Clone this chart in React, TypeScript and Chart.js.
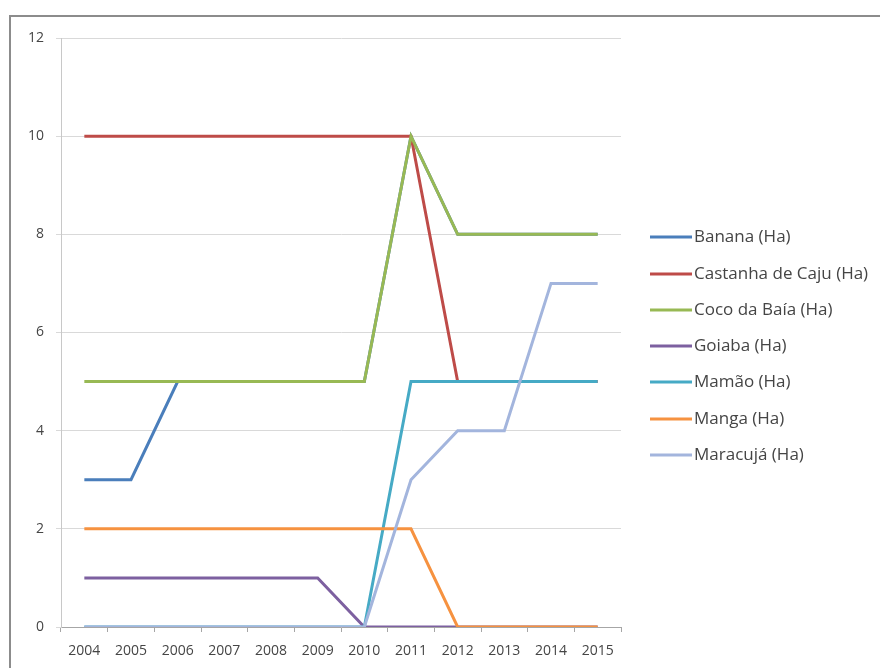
import React, { useEffect, useRef } from "react";
import { Chart, registerables } from "chart.js";

Chart.register(...registerables);

const years = ["2004", "2005", "2006", "2007", "2008", "2009", "2010", "2011", "2012", "2013", "2014", "2015"];
const banana = [3, 3, 5, 5, 5, 5, 5, 10, 8, 8, 8, 8];
const castanha = [10, 10, 10, 10, 10, 10, 10, 10, 5, 5, 5, 5];
const coco = [5, 5, 5, 5, 5, 5, 5, 10, 8, 8, 8, 8];
const goiaba = [1, 1, 1, 1, 1, 1, 0, 0, 0, 0, 0, 0];
const mamao = [0, 0, 0, 0, 0, 0, 0, 5, 5, 5, 5, 5];
const manga = [2, 2, 2, 2, 2, 2, 2, 2, 0, 0, 0, 0];
const maracuja = [0, 0, 0, 0, 0, 0, 0, 3, 4, 4, 7, 7];

const seriesNames = [
  "Banana (Ha)",
  "Castanha de Caju (Ha)",
  "Coco da Baía (Ha)",
  "Goiaba (Ha)",
  "Mamão (Ha)",
  "Manga (Ha)",
  "Maracujá (Ha)",
];
const seriesValues = [banana, castanha, coco, goiaba, mamao, manga, maracuja];
const seriesColors = ["#4A7EBB", "#BE4B48", "#98B954", "#7D60A0", "#46AAC5", "#F69240", "#A3B5DD"];

const TEXT = "#454545";

const frameAndLegend = {
  id: "frameAndLegend",
  afterDraw(chart: any) {
    const ctx = chart.ctx;
    ctx.save();
    // outer frame (top and left edges visible)
    ctx.fillStyle = "#8C8C8C";
    ctx.fillRect(9, 15, 871, 2);
    ctx.fillRect(9, 15, 2, 653);
    // legend
    const ys = [237, 274, 310, 346, 382, 419, 455];
    ctx.font = "17px 'Open Sans'";
    ctx.textBaseline = "middle";
    ctx.textAlign = "left";
    chart.data.datasets.forEach((ds: any, i: number) => {
      const y = ys[i];
      ctx.strokeStyle = ds.borderColor;
      ctx.lineWidth = 3;
      ctx.beginPath();
      ctx.moveTo(650, y);
      ctx.lineTo(692, y);
      ctx.stroke();
      ctx.fillStyle = TEXT;
      ctx.fillText(ds.label, 694, y);
    });
    ctx.restore();
  },
};

export default function App() {
  const ref = useRef<HTMLCanvasElement>(null);

  useEffect(() => {
    if (!ref.current) return;
    Chart.defaults.font.family = "'Open Sans'";
    const chart = new Chart(ref.current, {
      type: "line",
      data: {
        labels: years,
        datasets: seriesNames.map((name, i) => ({
          label: name,
          data: seriesValues[i],
          borderColor: seriesColors[i],
          backgroundColor: seriesColors[i],
          borderWidth: 3,
          pointRadius: 0,
          tension: 0,
          fill: false,
          order: seriesNames.length - i,
        })),
      },
      options: {
        animation: false,
        responsive: false,
        devicePixelRatio: 1,
        layout: { padding: { left: 0, top: 38, right: 259, bottom: 0 } },
        plugins: {
          legend: { display: false },
          tooltip: { enabled: false },
        },
        scales: {
          x: {
            offset: true,
            grid: {
              offset: true,
              drawOnChartArea: false,
              drawTicks: true,
              tickLength: 5,
              color: "#A6A6A6",
            },
            border: { color: "#A6A6A6", width: 1 },
            ticks: {
              color: TEXT,
              font: { size: 14, family: "'Open Sans'" },
              padding: 11,
              maxRotation: 0,
              autoSkip: false,
            },
            afterFit: (s: any) => {
              s.height = 41;
            },
          },
          y: {
            min: 0,
            max: 12,
            grid: { color: "#D9D9D9", tickLength: 5, drawTicks: true },
            border: { color: "#C8C8C8", width: 1 },
            ticks: {
              stepSize: 2,
              color: TEXT,
              font: { size: 14, family: "'Open Sans'" },
              padding: 12,
            },
            afterFit: (s: any) => {
              s.width = 61;
            },
          },
        },
      },
      plugins: [frameAndLegend],
    });
    return () => chart.destroy();
  }, []);

  return (
    <div style={{ position: "absolute", left: 0, top: 0, width: 880, height: 668, background: "#fff" }}>
      <canvas ref={ref} width={880} height={668} style={{ display: "block" }} />
    </div>
  );
}
